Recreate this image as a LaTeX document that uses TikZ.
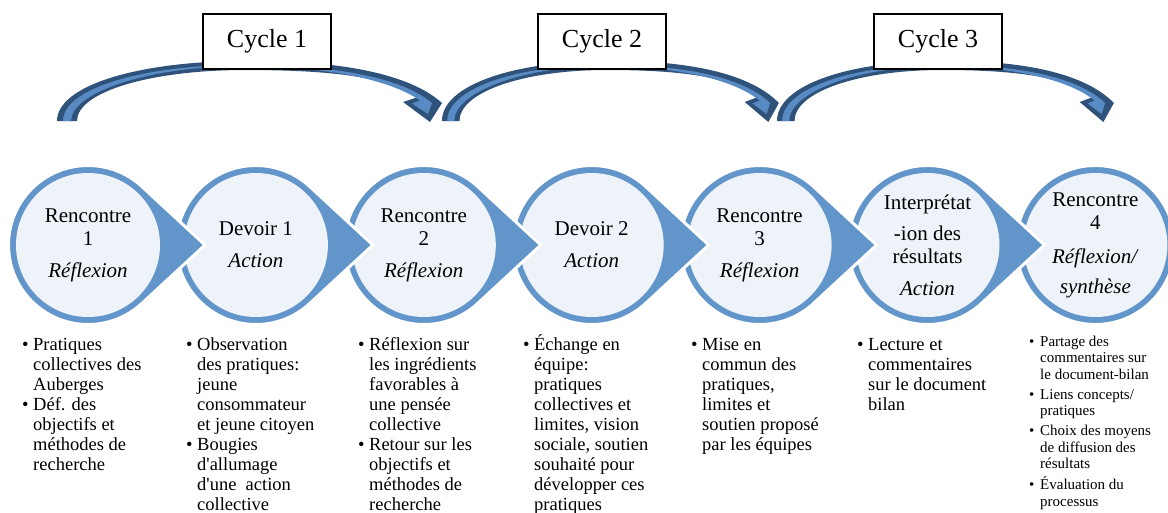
\documentclass[tikz,border=0pt]{standalone}
\usepackage{fontspec}
\setmainfont{Liberation Serif}
\usetikzlibrary{positioning,calc,backgrounds}
\definecolor{ringblue}{RGB}{98,149,201}
\definecolor{stagefill}{RGB}{238,243,249}
\definecolor{arcdark}{RGB}{47,82,122}
\definecolor{arclight}{RGB}{88,138,196}
\tikzstyle{stage} = [circle, minimum size=144pt, inner sep=0pt,
                     align=center, font=\fontsize{21}{23}\selectfont]
\tikzstyle{ring} = [fill=ringblue, draw=white, line width=3pt]
\tikzstyle{cyclebox} = [rectangle, draw=black, line width=1.2pt, fill=white,
                        minimum width=128pt, minimum height=55pt,
                        font=\fontsize{26}{30}\selectfont]
\tikzstyle{notes} = [anchor=base west, inner sep=0pt, font=\fontsize{18.5}{20}\selectfont]
\tikzstyle{notesmall} = [notes, font=\fontsize{15}{16.5}\selectfont]
\newcommand{\bul}{\makebox[11pt][l]{\textbullet}}
\newcommand{\ind}{\hspace*{11pt}}
% curved arrow of one cycle (coordinates of the first one)
\newcommand{\cyclearc}{%
  \fill[arcdark] (57,121) .. controls (57,85) and (140,61) .. (245,61)
    .. controls (340,60) and (410,74) .. (442,103) -- (430,122) -- (403,102) -- (418,97)
    .. controls (385,75) and (320,70) .. (245,70)
    .. controls (150,70) and (77,92) .. (77,121) -- cycle;
  \fill[arclight] (63,121) .. controls (63,88) and (145,64.5) .. (245,65)
    .. controls (338,65) and (402,78) .. (432,103) -- (428,114) -- (412,103.5) -- (420,100.5)
    .. controls (388,78) and (320,66.5) .. (245,66)
    .. controls (150,66) and (71,92) .. (71,121) -- cycle;
}

\begin{document}
\begin{tikzpicture}[x=1pt, y=-1pt, node distance=23.5pt]
\useasboundingbox (0,0) rectangle (1168,512);

% the seven stages
\node[stage] (s1) at (88,245) {Rencontre\\1\\[9pt]\textit{Réflexion}};
\node[stage, right=of s1] (s2) {Devoir 1\\[9pt]\textit{Action}};
\node[stage, right=of s2] (s3) {Rencontre\\2\\[9pt]\textit{Réflexion}};
\node[stage, right=of s3] (s4) {Devoir 2\\[9pt]\textit{Action}};
\node[stage, right=of s4] (s5) {Rencontre\\3\\[9pt]\textit{Réflexion}};
\node[stage, right=of s5] (s6) {Interprétat\\[8pt]-ion des\\résultats\\[9pt]\textit{Action}};
\node[stage, right=of s6] (s7) {Rencontre\\4\\[11pt]\textit{Réflexion/}\\[7pt]\textit{synthèse}};

\begin{scope}[on background layer]
\path[ring] (s7.center) circle[radius=79.5];
\fill[stagefill] (s7.center) circle[radius=72];
\foreach \s in {s6,s5,s4,s3,s2,s1} {
  \path[ring] (\s.center) ++(47.2:79.5) arc[start angle=47.2, end angle=312.8, radius=79.5]
    -- ($(\s.center)+(117,0)$) -- cycle;
  \fill[stagefill] (\s.center) circle[radius=72];
}
\end{scope}

% cycles
\cyclearc
\begin{scope}[xshift=392.1pt, xscale=0.875]
\cyclearc
\end{scope}
\begin{scope}[xshift=727.1pt, xscale=0.875]
\cyclearc
\end{scope}
\node[cyclebox] (c1) at (267,41.5) {Cycle 1};
\node[cyclebox] (c2) at (602,41.5) {Cycle 2};
\node[cyclebox] (c3) at (938,41.5) {Cycle 3};

% what is done at each stage
\node[notes] (n1) at (22,350) {\begin{tabular}[t]{@{}l@{}}
\bul Pratiques\\ \ind collectives des\\ \ind Auberges\\
\bul Déf. des\\ \ind objectifs et\\ \ind méthodes de\\ \ind recherche
\end{tabular}};
\node[notes] (n2) at (186,350) {\begin{tabular}[t]{@{}l@{}}
\bul Observation\\ \ind des pratiques:\\ \ind jeune\\ \ind consommateur\\ \ind et jeune citoyen\\
\bul Bougies\\ \ind d\textquotesingle allumage\\ \ind d\textquotesingle une\ \ action\\ \ind collective
\end{tabular}};
\node[notes] (n3) at (358,350) {\begin{tabular}[t]{@{}l@{}}
\bul Réflexion sur\\ \ind les ingrédients\\ \ind favorables à\\ \ind une pensée\\ \ind collective\\
\bul Retour sur les\\ \ind objectifs et\\ \ind méthodes de\\ \ind recherche
\end{tabular}};
\node[notes] (n4) at (523,350) {\begin{tabular}[t]{@{}l@{}}
\bul Échange en\\ \ind équipe:\\ \ind pratiques\\ \ind collectives et\\ \ind limites, vision\\
\ind sociale, soutien\\ \ind souhaité pour\\ \ind développer ces\\ \ind pratiques
\end{tabular}};
\node[notes] (n5) at (691,350) {\begin{tabular}[t]{@{}l@{}}
\bul Mise en\\ \ind commun des\\ \ind pratiques,\\ \ind limites et\\ \ind soutien proposé\\ \ind par les équipes
\end{tabular}};
\node[notes] (n6) at (857,350) {\begin{tabular}[t]{@{}l@{}}
\bul Lecture et\\ \ind commentaires\\ \ind sur le document\\ \ind bilan
\end{tabular}};
\node[notesmall] (n7) at (1029,346) {\begin{tabular}[t]{@{}l@{}}
\bul Partage des\\ \ind commentaires sur\\ \ind le document-bilan\\[3.5pt]
\bul Liens concepts/\\ \ind pratiques\\[3.5pt]
\bul Choix des moyens\\ \ind de diffusion des\\ \ind résultats\\[3.5pt]
\bul Évaluation du\\ \ind processus
\end{tabular}};

\end{tikzpicture}
\end{document}
